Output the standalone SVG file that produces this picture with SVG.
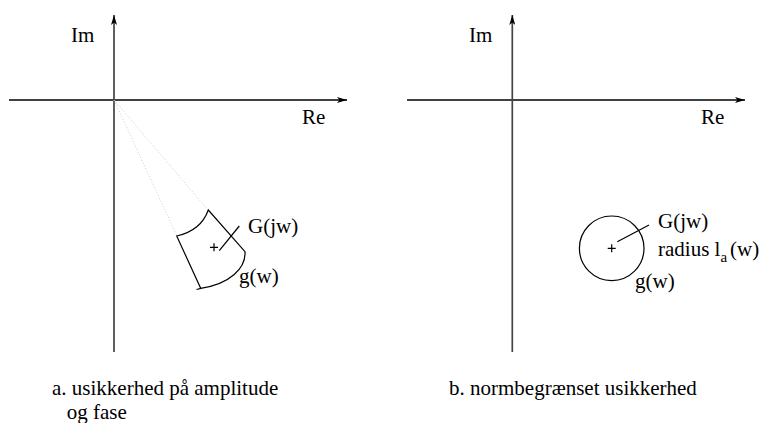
<svg xmlns="http://www.w3.org/2000/svg" width="762" height="423" viewBox="0 0 762 423">
<defs>
<marker id="arr" viewBox="0 0 10 6" refX="10" refY="3" markerWidth="10" markerHeight="6" markerUnits="userSpaceOnUse" orient="auto">
<path d="M0,0 L10,3 L0,6 L2.5,3 Z" fill="#000"/>
</marker>
</defs>
<style>
text{font-family:"Liberation Serif","Times New Roman",serif;font-size:21px;fill:#000}
.ax{stroke:#000;stroke-width:1.3;fill:none}
.axv{stroke:#444;stroke-width:1.7;fill:none}
.ln{stroke:#000;stroke-width:1.2;fill:none}
.dot{stroke:#ccc;stroke-width:1;stroke-dasharray:1,2;fill:none}
</style>
<rect width="762" height="423" fill="#fff"/>
<g id="left-axes" font-family="Liberation Serif, serif">
<line class="ax" x1="9" y1="100" x2="347" y2="100" marker-end="url(#arr)"/>
<line class="axv" x1="114" y1="352" x2="114" y2="15" marker-end="url(#arr)"/>
<text x="71" y="42">Im</text>
<text x="302" y="124">Re</text>
</g>
<g id="left-sector" font-family="Liberation Serif, serif">
<line class="dot" x1="114" y1="100" x2="177" y2="236"/>
<line class="dot" x1="114" y1="100" x2="208" y2="210"/>
<path class="ln" d="M176.7,236 C190,233 203,225 208.3,210 L245,251.7 C246,268 230,284 200.7,288.3 Z"/>
<line class="ln" x1="196.5" y1="289.5" x2="201" y2="288.3"/>
<path class="ln" d="M210,247.3 H218 M214,243.3 V251.3"/>
<line class="ln" x1="219.3" y1="250.7" x2="239.3" y2="226"/>
<text x="248" y="233">G(jw)</text>
<text x="239" y="283">g(w)</text>
</g>
<g id="right-axes" font-family="Liberation Serif, serif">
<line class="ax" x1="407" y1="100" x2="745" y2="100" marker-end="url(#arr)"/>
<line class="axv" x1="512.3" y1="352" x2="512.3" y2="15" marker-end="url(#arr)"/>
<text x="469" y="42">Im</text>
<text x="701" y="124">Re</text>
</g>
<g id="right-circle" font-family="Liberation Serif, serif">
<circle class="ln" cx="611.7" cy="248.3" r="32.3"/>
<path class="ln" d="M607.7,248.3 H615.7 M611.7,244.3 V252.3"/>
<line class="ln" x1="617.3" y1="241.7" x2="649" y2="225"/>
<text x="658" y="228">G(jw)</text>
<text x="658" y="256">radius l<tspan font-size="15" dy="6">a</tspan><tspan dy="-6" dx="3">(w)</tspan></text>
<text x="635" y="288">g(w)</text>
</g>
<g id="captions" font-family="Liberation Serif, serif">
<text x="52" y="395">a. usikkerhed på amplitude</text>
<text x="66.7" y="419">og fase</text>
<text x="449" y="395">b. normbegrænset usikkerhed</text>
</g>
</svg>
